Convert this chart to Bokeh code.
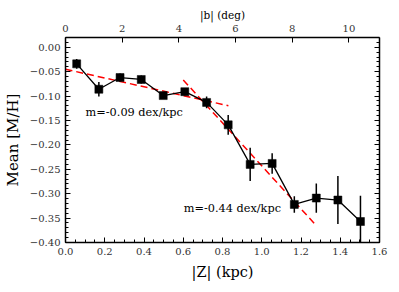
import numpy as np
from bokeh.plotting import figure
from bokeh.models import (Range1d, LinearAxis, FixedTicker, CustomJSTickFormatter, Label)
from bokeh.embed import file_html
from bokeh.resources import INLINE

# data (|Z| in kpc, mean [M/H], error)
z_kpc = [0.057, 0.170, 0.278, 0.386, 0.498, 0.608, 0.719, 0.829, 0.941, 1.053, 1.166, 1.278, 1.388, 1.503]
mean_mh = [-0.034, -0.086, -0.062, -0.066, -0.099, -0.091, -0.113, -0.159, -0.240, -0.238, -0.322, -0.309, -0.313, -0.357]
mh_err = [0.010, 0.015, 0.008, 0.008, 0.007, 0.007, 0.012, 0.020, 0.034, 0.021, 0.017, 0.030, 0.049, 0.053]

# linear fits
fit1_x = [0.0, 0.83]
fit1_slope, fit1_icpt = -0.09, -0.045
fit2_x = [0.60, 1.28]
fit2_slope, fit2_icpt = -0.44, 0.197

fit1_label = "m=-0.09 dex/kpc"
fit2_label = "m=-0.44 dex/kpc"
x_title = "|Z| (kpc)"
y_title = "Mean [M/H]"
top_title = "|b| (deg)"

x_ticks = [0.0, 0.2, 0.4, 0.6, 0.8, 1.0, 1.2, 1.4, 1.6]
y_ticks = [0.00, -0.05, -0.10, -0.15, -0.20, -0.25, -0.30, -0.35, -0.40]
deg_ticks = [0, 2, 4, 6, 8, 10]
DEG_PER_KPC = 6.925

FONT = "DejaVu Serif"

p = figure(width=399, height=292, output_backend="svg", toolbar_location=None,
           x_range=Range1d(0, 1.6), y_range=Range1d(-0.40, 0.02),
           min_border_left=59, min_border_right=20, min_border_top=37, min_border_bottom=50,
           x_axis_location=None, y_axis_location=None)
p.outline_line_color = None
p.grid.visible = False
p.background_fill_color = "white"
p.border_fill_color = "white"
p.extra_x_ranges = {"deg": Range1d(0, 1.6 * DEG_PER_KPC)}

xminor = [round(0.05 * i, 3) for i in range(0, 33)]
yminor = [round(-0.40 + 0.01 * i, 3) for i in range(0, 43)]

fmt_x = CustomJSTickFormatter(code="return (tick<0?'\u2212':'') + Math.abs(tick).toFixed(1);")
fmt_y = CustomJSTickFormatter(code="return (tick<-1e-9?'\u2212':'') + Math.abs(tick).toFixed(2);")
fmt_deg = CustomJSTickFormatter(code="return tick.toFixed(0);")
fmt_none = CustomJSTickFormatter(code="return '';")

def style(ax):
    ax.axis_line_width = 1.5
    ax.axis_line_color = "black"
    ax.major_tick_in = 5
    ax.major_tick_out = 0
    ax.minor_tick_in = 3
    ax.minor_tick_out = 0
    ax.major_tick_line_width = 1
    ax.minor_tick_line_width = 1
    ax.major_label_text_font = FONT
    ax.major_label_text_font_size = "10px"
    ax.major_label_text_color = "#333333"
    ax.axis_label_text_font = FONT
    ax.axis_label_text_font_style = "normal"
    ax.axis_label_text_color = "black"

bottom = LinearAxis(ticker=FixedTicker(ticks=x_ticks, minor_ticks=xminor), formatter=fmt_x,
                    axis_label=x_title)
style(bottom)
bottom.major_label_standoff = 5
bottom.axis_label_standoff = 6
bottom.axis_label_text_font_size = "14.5px"
p.add_layout(bottom, "below")

left = LinearAxis(ticker=FixedTicker(ticks=y_ticks, minor_ticks=yminor), formatter=fmt_y,
                  axis_label=y_title)
style(left)
left.major_label_standoff = 5
left.axis_label_standoff = 5
left.axis_label_text_font_size = "15px"
p.add_layout(left, "left")

top = LinearAxis(x_range_name="deg", ticker=FixedTicker(ticks=deg_ticks, minor_ticks=[]),
                 formatter=fmt_deg, axis_label=top_title)
style(top)
top.major_label_standoff = 6
top.axis_label_standoff = 1
top.axis_label_text_font_size = "10.5px"
p.add_layout(top, "above")

right = LinearAxis(ticker=FixedTicker(ticks=y_ticks, minor_ticks=yminor), formatter=fmt_none)
style(right)
right.major_label_standoff = 0
p.add_layout(right, "right")

# fits
f1y = [fit1_icpt + fit1_slope * x for x in fit1_x]
f2y = [fit2_icpt + fit2_slope * x for x in fit2_x]
p.line(fit1_x, f1y, line_color="red", line_width=1.5, line_dash="7 4")
p.line(fit2_x, f2y, line_color="red", line_width=1.5, line_dash="7 4")

# data
zz = np.array(z_kpc)
mm = np.array(mean_mh)
ee = np.array(mh_err)
p.segment(x0=zz, y0=mm - ee, x1=zz, y1=mm + ee, line_color="black", line_width=1.5)
p.line(zz, mm, line_color="black", line_width=1.3)
p.scatter(zz, mm, marker="square", size=8, fill_color="black", line_color="black", line_width=0.5)

p.add_layout(Label(x=0.1025, y=-0.133, text=fit1_label, text_font=FONT, text_font_size="11.3px",
                   text_baseline="middle", text_color="black"))
p.add_layout(Label(x=0.6025, y=-0.331, text=fit2_label, text_font=FONT, text_font_size="11.3px",
                   text_baseline="middle", text_color="black"))

open("out.html", "w").write(file_html(p, INLINE))
